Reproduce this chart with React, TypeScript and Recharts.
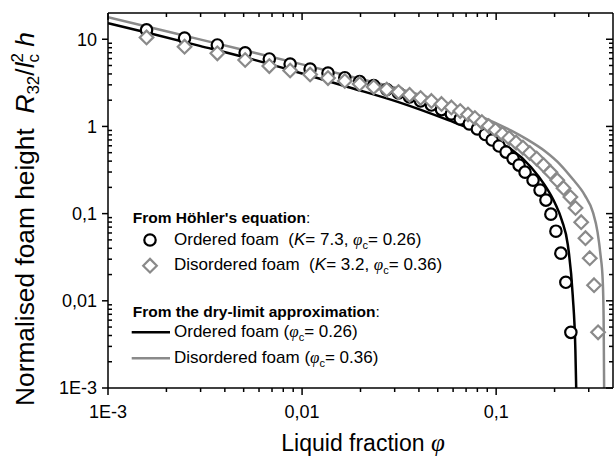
import React from 'react';
import { ComposedChart, XAxis, YAxis, Scatter, Line, Legend } from 'recharts';

// Höhler's equation – ordered foam (K = 7.3, φc = 0.26)
const orderedPhi = [0.00158, 0.00248, 0.00366, 0.00509, 0.00678, 0.00868, 0.011, 0.0136, 0.0166, 0.0198, 0.0234, 0.0273, 0.0314, 0.0358, 0.0408, 0.0464, 0.0523, 0.0588, 0.0653, 0.0727, 0.08, 0.0879, 0.0953, 0.1035, 0.1125, 0.1222, 0.1312, 0.1409, 0.1549, 0.1683, 0.1805, 0.1914, 0.2032, 0.2155, 0.2286, 0.2426];
const orderedHeight = [12.8, 10.3, 8.6, 7.0, 5.94, 5.2, 4.56, 4.1, 3.62, 3.27, 2.95, 2.65, 2.42, 2.18, 1.96, 1.76, 1.56, 1.39, 1.22, 1.07, 0.934, 0.807, 0.698, 0.596, 0.508, 0.428, 0.36, 0.299, 0.242, 0.186, 0.143, 0.0986, 0.0629, 0.0352, 0.0163, 0.00435];

// Höhler's equation – disordered foam (K = 3.2, φc = 0.36)
const disorderedPhi = [0.00158, 0.00248, 0.00366, 0.00509, 0.00678, 0.00868, 0.011, 0.0136, 0.0166, 0.0198, 0.0234, 0.0273, 0.0314, 0.0358, 0.0408, 0.0464, 0.0523, 0.0588, 0.0653, 0.0716, 0.0777, 0.0844, 0.0915, 0.0993, 0.1077, 0.1168, 0.1267, 0.1374, 0.1491, 0.1617, 0.1754, 0.1903, 0.2064, 0.2224, 0.2413, 0.2564, 0.2742, 0.2886, 0.3036, 0.3195, 0.3351];
const disorderedHeight = [10.5, 8.22, 6.9, 5.78, 4.93, 4.38, 3.94, 3.59, 3.32, 3.07, 2.83, 2.65, 2.48, 2.3, 2.12, 1.96, 1.81, 1.65, 1.5, 1.37, 1.25, 1.12, 1.01, 0.91, 0.819, 0.736, 0.653, 0.573, 0.495, 0.428, 0.36, 0.299, 0.242, 0.196, 0.155, 0.116, 0.0798, 0.0523, 0.0308, 0.0151, 0.00435];

// Dry-limit approximation – ordered foam (φc = 0.26)
const dryOrderedPhi = [0.001, 0.00164, 0.00297, 0.00568, 0.01, 0.0174, 0.0314, 0.0567, 0.0809, 0.0989, 0.119, 0.151, 0.178, 0.201, 0.218, 0.234, 0.248, 0.256, 0.2585];
const dryOrderedHeight = [15.3, 11.7, 8.4, 5.8, 4.05, 2.82, 1.9, 1.18, 0.86, 0.69, 0.551, 0.343, 0.212, 0.1316, 0.0838, 0.044, 0.0116, 0.00271, 0.001];

// Dry-limit approximation – disordered foam (φc = 0.36)
const dryDisorderedPhi = [0.001, 0.00164, 0.00297, 0.00568, 0.01, 0.0174, 0.0314, 0.0567, 0.0809, 0.0989, 0.119, 0.145, 0.178, 0.215, 0.248, 0.286, 0.315, 0.333, 0.345, 0.354, 0.358, 0.36];
const dryDisorderedHeight = [17.9, 13.7, 9.97, 7.01, 5.15, 3.79, 2.71, 1.81, 1.34, 1.1, 0.9, 0.705, 0.522, 0.361, 0.249, 0.163, 0.104, 0.0613, 0.0334, 0.0173, 0.006, 0.001];

// Axes
const xDomain = [0.001, 0.4];
const yDomain = [0.001, 20];
const xMajorTicks = [0.001, 0.01, 0.1];
const xMajorLabels = ['1E-3', '0,01', '0,1'];
const xMinorTicks = [0.002, 0.003, 0.004, 0.005, 0.006, 0.007, 0.008, 0.009, 0.02, 0.03, 0.04, 0.05, 0.06, 0.07, 0.08, 0.09, 0.2, 0.3];
const yMajorTicks = [0.001, 0.01, 0.1, 1, 10];
const yMajorLabels = ['1E-3', '0,01', '0,1', '1', '10'];
const yMinorTicks = [0.002, 0.003, 0.004, 0.005, 0.006, 0.007, 0.008, 0.009, 0.02, 0.03, 0.04, 0.05, 0.06, 0.07, 0.08, 0.09, 0.2, 0.3, 0.4, 0.5, 0.6, 0.7, 0.8, 0.9, 2, 3, 4, 5, 6, 7, 8, 9];

const zip = (xs: number[], ys: number[]) => xs.map((x, i) => ({ x, y: ys[i] }));
const circleData = zip(orderedPhi, orderedHeight);
const diamondData = zip(disorderedPhi, disorderedHeight);
const dryOrderedData = zip(dryOrderedPhi, dryOrderedHeight);
const dryDisorderedData = zip(dryDisorderedPhi, dryDisorderedHeight);
const allXTicks = [...xMajorTicks, ...xMinorTicks].sort((a, b) => a - b);
const allYTicks = [...yMajorTicks, ...yMinorTicks].sort((a, b) => a - b);

const FONT = '"Liberation Sans", Arial, Helvetica, sans-serif';
const SERIF = '"Liberation Serif", "Times New Roman", serif';
const GRAY = '#8a8a8a';
const AX = 1.5;

const majorIndex = (v: number, majors: number[]) => majors.findIndex((m) => Math.abs(m - v) / m < 1e-6);

const BottomTick = (p: any) => {
  const { x, y, payload } = p;
  const i = majorIndex(payload.value, xMajorTicks);
  if (i >= 0) {
    return (
      <g>
        <line x1={x} x2={x} y1={y} y2={y + 7} stroke="#000" strokeWidth={AX} />
        <text x={x} y={y + 30} textAnchor="middle" fontSize={18} fontFamily={FONT} fill="#000">{xMajorLabels[i]}</text>
      </g>
    );
  }
  return <line x1={x} x2={x} y1={y} y2={y + 4} stroke="#000" strokeWidth={AX} />;
};

const TopTick = (p: any) => {
  const { x, y, payload } = p;
  const len = majorIndex(payload.value, xMajorTicks) >= 0 ? 7 : 4;
  return <line x1={x} x2={x} y1={y} y2={y + len} stroke="#000" strokeWidth={AX} />;
};

const LeftTick = (p: any) => {
  const { x, y, payload } = p;
  const i = majorIndex(payload.value, yMajorTicks);
  if (i >= 0) {
    return (
      <g>
        <line x1={x - 6} x2={x} y1={y} y2={y} stroke="#000" strokeWidth={AX} />
        <text x={x - 11} y={y} dy="0.36em" textAnchor="end" fontSize={18} fontFamily={FONT} fill="#000">{yMajorLabels[i]}</text>
      </g>
    );
  }
  return <line x1={x} x2={x + 4} y1={y} y2={y} stroke="#000" strokeWidth={AX} />;
};

const RightTick = (p: any) => {
  const { x, y, payload } = p;
  const len = majorIndex(payload.value, yMajorTicks) >= 0 ? 7 : 4;
  return <line x1={x - len} x2={x} y1={y} y2={y} stroke="#000" strokeWidth={AX} />;
};

const CircleShape = (p: any) => (
  <circle cx={p.cx} cy={p.cy} r={5.7} fill="#fff" stroke="#000" strokeWidth={2.2} />
);

const DiamondShape = (p: any) => {
  const s = 6.8;
  const { cx, cy } = p;
  return (
    <polygon
      points={`${cx},${cy - s} ${cx + s},${cy} ${cx},${cy + s} ${cx - s},${cy}`}
      fill="#fff"
      stroke={GRAY}
      strokeWidth={2.2}
    />
  );
};

const XTitle = () => (
  <text x={363} y={451} textAnchor="middle" fontSize={23} fontFamily={FONT} fill="#000" style={{ whiteSpace: 'pre' }}>
    Liquid fraction <tspan fontFamily={SERIF} fontStyle="italic" fontSize={25}>φ</tspan>
  </text>
);

const YTitle = () => (
  <text transform="translate(34,219) rotate(-90)" textAnchor="middle" fontSize={26.3} fontFamily={FONT} fill="#000" style={{ whiteSpace: 'pre' }}>
    Normalised foam height  <tspan fontStyle="italic">R</tspan>
    <tspan fontSize={17} dy={5}>32</tspan>
    <tspan dy={-5}>/</tspan>
    <tspan fontStyle="italic">l</tspan>
    <tspan fontSize={17} dy={-11}>2</tspan>
    <tspan fontSize={17} dx={-9.5} dy={16}>c</tspan>
    <tspan dy={-5}> </tspan>
    <tspan fontStyle="italic">h</tspan>
  </text>
);

const Phi = () => <tspan fontFamily={SERIF} fontStyle="italic">φ</tspan>;

const LegendBox = () => (
  <svg width={340} height={170} style={{ display: 'block', overflow: 'visible' }} fontFamily={FONT}>
    <text x={7.7} y={18.3} fontSize={15.5} fill="#000">
      <tspan fontWeight="bold">From Höhler's equation</tspan>:
    </text>
    <circle cx={25} cy={35} r={5.7} fill="#fff" stroke="#000" strokeWidth={2.2} />
    <text x={49} y={39.5} fontSize={17} fill="#000" style={{ whiteSpace: 'pre' }}>
      {'Ordered foam  ('}<tspan fontStyle="italic">K</tspan>{'= 7.3, '}<Phi /><tspan fontSize={11} dy={4}>c</tspan><tspan dy={-4}>= 0.26)</tspan>
    </text>
    <polygon points="25,53.9 31.8,60.7 25,67.5 18.2,60.7" fill="#fff" stroke={GRAY} strokeWidth={2.2} />
    <text x={49} y={65} fontSize={17} fill="#000" style={{ whiteSpace: 'pre' }}>
      {'Disordered foam  ('}<tspan fontStyle="italic">K</tspan>{'= 3.2, '}<Phi /><tspan fontSize={11} dy={4}>c</tspan><tspan dy={-4}>= 0.36)</tspan>
    </text>
    <text x={7.7} y={112} fontSize={15.5} fill="#000">
      <tspan fontWeight="bold">From the dry-limit approximation</tspan>:
    </text>
    <line x1={6.7} x2={45} y1={127.3} y2={127.3} stroke="#000" strokeWidth={2.5} />
    <text x={49} y={132} fontSize={17} fill="#000" style={{ whiteSpace: 'pre' }}>
      {'Ordered foam ('}<Phi /><tspan fontSize={11} dy={4}>c</tspan><tspan dy={-4}>= 0.26)</tspan>
    </text>
    <line x1={6.7} x2={45} y1={153.3} y2={153.3} stroke={GRAY} strokeWidth={2.5} />
    <text x={49} y={158} fontSize={17} fill="#000" style={{ whiteSpace: 'pre' }}>
      {'Disordered foam ('}<Phi /><tspan fontSize={11} dy={4}>c</tspan><tspan dy={-4}>= 0.36)</tspan>
    </text>
  </svg>
);

export default function App() {
  return (
    <div style={{ width: 615, height: 456 }}>
      <style>{'body{margin:0;}'}</style>
      <ComposedChart width={615} height={456} margin={{ top: 0, right: 0, bottom: 0, left: 0 }} style={{ fontFamily: FONT }}>
        <XAxis
          xAxisId="b"
          orientation="bottom"
          type="number"
          dataKey="x"
          scale="log"
          domain={xDomain}
          allowDataOverflow
          ticks={allXTicks}
          interval={0}
          tickSize={0}
          tickMargin={0}
          tickLine={false}
          axisLine={{ stroke: '#000', strokeWidth: AX }}
          tick={(p: any) => <BottomTick {...p} />}
          height={68}
          label={{ content: XTitle }}
        />
        <XAxis
          xAxisId="t"
          orientation="top"
          type="number"
          dataKey="x"
          scale="log"
          domain={xDomain}
          allowDataOverflow
          ticks={allXTicks}
          interval={0}
          tickSize={0}
          tickMargin={0}
          tickLine={false}
          axisLine={{ stroke: '#000', strokeWidth: AX }}
          tick={(p: any) => <TopTick {...p} />}
          height={13}
        />
        <YAxis
          yAxisId="l"
          orientation="left"
          type="number"
          dataKey="y"
          scale="log"
          domain={yDomain}
          allowDataOverflow
          ticks={allYTicks}
          interval={0}
          tickSize={0}
          tickMargin={0}
          tickLine={false}
          axisLine={{ stroke: '#000', strokeWidth: AX }}
          tick={(p: any) => <LeftTick {...p} />}
          width={108}
          label={{ content: YTitle }}
        />
        <YAxis
          yAxisId="r"
          orientation="right"
          type="number"
          dataKey="y"
          scale="log"
          domain={yDomain}
          allowDataOverflow
          ticks={allYTicks}
          interval={0}
          tickSize={0}
          tickMargin={0}
          tickLine={false}
          axisLine={{ stroke: '#000', strokeWidth: AX }}
          tick={(p: any) => <RightTick {...p} />}
          width={2}
        />
        <Scatter name="Ordered foam (Höhler)" xAxisId="b" yAxisId="l" data={circleData} shape={CircleShape} isAnimationActive={false} />
        <Scatter name="Disordered foam (Höhler)" xAxisId="b" yAxisId="l" data={diamondData} shape={DiamondShape} isAnimationActive={false} />
        <Line name="Ordered foam (dry limit)" xAxisId="b" yAxisId="l" data={dryOrderedData} dataKey="y" type="monotone" stroke="#000" strokeWidth={2.5} dot={false} activeDot={false} isAnimationActive={false} />
        <Line name="Disordered foam (dry limit)" xAxisId="b" yAxisId="l" data={dryDisorderedData} dataKey="y" type="monotone" stroke={GRAY} strokeWidth={2.5} dot={false} activeDot={false} isAnimationActive={false} />
        <Legend
          layout="horizontal"
          verticalAlign="middle"
          align="center"
          wrapperStyle={{ position: 'absolute', left: 125, top: 205, width: 340, height: 170 }}
          content={() => <LegendBox />}
        />
      </ComposedChart>
    </div>
  );
}
